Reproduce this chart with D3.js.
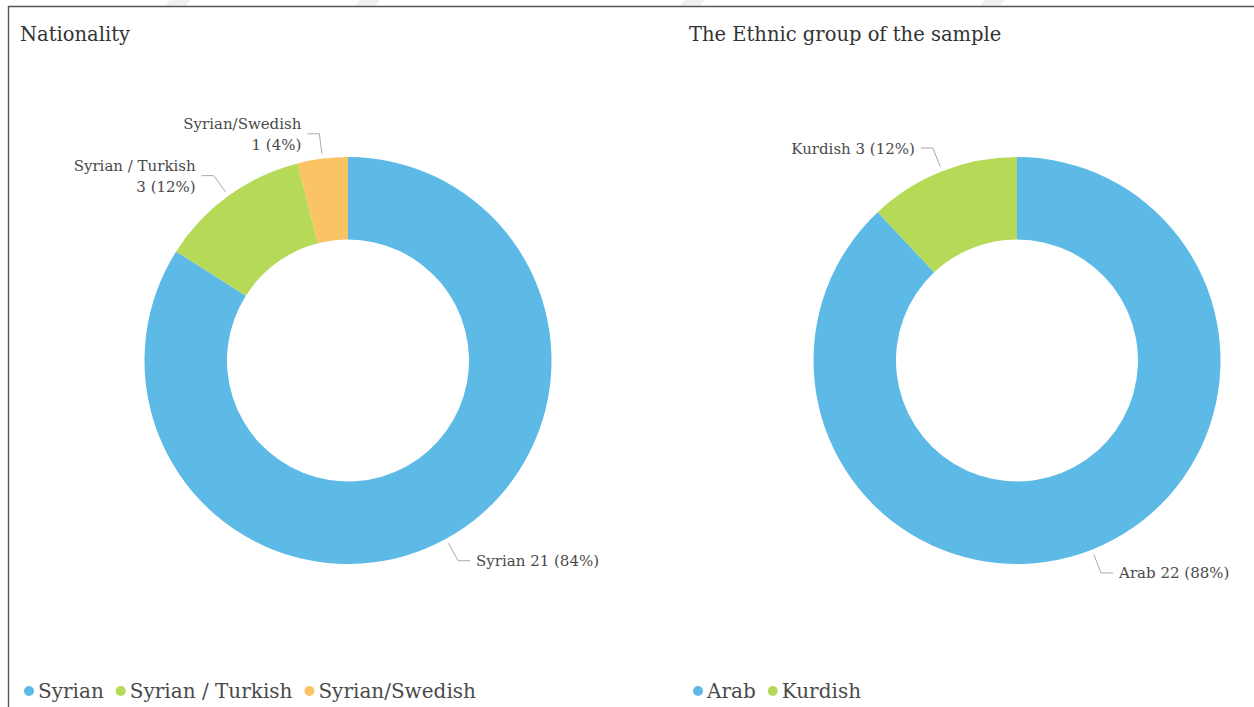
<!DOCTYPE html>
<html>
<head>
<meta charset="utf-8">
<script src="https://cdn.jsdelivr.net/npm/d3@7"></script>
<style>
    body { margin: 0; background: #fff; }
    svg { display: block; }
</style>
</head>
<body>
<div id="chart"></div>
<script>
// data
const nationalityNames = ["Syrian", "Syrian / Turkish", "Syrian/Swedish"];
const nationalityCounts = [21, 3, 1];
const ethnicNames = ["Arab", "Kurdish"];
const ethnicCounts = [22, 3];

const colors = ["#5db9e5", "#b6d957", "#fac364"];
// labels written on two lines
const twoLine = ["Syrian / Turkish", "Syrian/Swedish"];

const FONT = "'DejaVu Serif', serif";
const W = 1254, H = 707;

let svg = d3.select("#chart")
    .append("svg")
    .attr("width", W)
    .attr("height", H)
    .style("font-family", FONT);

// faint stripes above the frame
let stripes = svg.append("g").attr("fill", "#f0f0f0");
for (const sx of [170, 360, 685, 985]) {
    stripes.append("path")
        .attr("d", `M${sx},0 L${sx + 20},0 L${sx + 15},6 L${sx - 5},6 Z`);
}

// frame lines
svg.append("line")
    .attr("x1", 8).attr("y1", 6.5).attr("x2", W).attr("y2", 6.5)
    .attr("stroke", "#555").attr("stroke-width", 1.6);
svg.append("line")
    .attr("x1", 8.5).attr("y1", 6).attr("x2", 8.5).attr("y2", H)
    .attr("stroke", "#555").attr("stroke-width", 1.4);

draw_donut({
    title: "Nationality", titleX: 20,
    names: nationalityNames, counts: nationalityCounts,
    cx: 348, cy: 360.5, legendX: 29
});

draw_donut({
    title: "The Ethnic group of the sample", titleX: 689,
    names: ethnicNames, counts: ethnicCounts,
    cx: 1017, cy: 360.5, legendX: 698
});

function draw_donut(o) {
    const outerR = 203.5, innerR = 121;
    const total = d3.sum(o.counts);
    const data = o.names.map((n, i) => ({ name: n, value: o.counts[i], color: colors[i] }));

    let g = svg.append("g");

    g.append("text")
        .attr("x", o.titleX)
        .attr("y", 41)
        .attr("fill", "#333")
        .attr("font-size", "19.5px")
        .text(o.title);

    const pie = d3.pie().sort(null).value(d => d.value);
    const arc = d3.arc().innerRadius(innerR).outerRadius(outerR);
    const arcs = pie(data);

    let plot = g.append("g")
        .attr("transform", `translate(${o.cx},${o.cy})`);

    plot.selectAll("path")
        .data(arcs)
        .enter()
        .append("path")
        .attr("d", arc)
        .attr("fill", d => d.data.color);

    // labels with leader lines
    for (const a of arcs) {
        const mid = (a.startAngle + a.endAngle) / 2;
        const s = Math.sin(mid), c = -Math.cos(mid);
        const p1 = [s * (outerR + 5), c * (outerR + 5)];
        const p2 = [s * (outerR + 25), c * (outerR + 25)];
        const dir = s >= 0 ? 1 : -1;
        const p3 = [p2[0] + dir * 12, p2[1]];

        plot.append("polyline")
            .attr("points", [p1, p2, p3].map(p => p.join(",")).join(" "))
            .attr("fill", "none")
            .attr("stroke", "#aaa")
            .attr("stroke-width", 1);

        const pct = Math.round(a.data.value / total * 100);
        const valueText = `${a.data.value} (${pct}%)`;
        let t = plot.append("text")
            .attr("x", p3[0] + dir * 6)
            .attr("y", p3[1])
            .attr("fill", "#4a4a4a")
            .attr("font-size", "15px")
            .attr("text-anchor", dir > 0 ? "start" : "end");

        if (twoLine.includes(a.data.name)) {
            t.append("tspan").attr("x", p3[0] + dir * 6).attr("dy", -4.5).text(a.data.name);
            t.append("tspan").attr("x", p3[0] + dir * 6).attr("dy", 20.5).text(valueText);
        } else {
            t.attr("dy", 5.5).text(a.data.name + " " + valueText);
        }
    }

    // legend
    let legend = g.append("g").attr("class", "legend");
    let lx = o.legendX;
    for (const d of data) {
        legend.append("circle")
            .attr("cx", lx)
            .attr("cy", 691)
            .attr("r", 5)
            .attr("fill", d.color);
        let lt = legend.append("text")
            .attr("x", lx + 9)
            .attr("y", 698)
            .attr("fill", "#4a4a4a")
            .attr("font-size", "20px")
            .text(d.name);
        lx = lx + 9 + lt.node().getComputedTextLength() + 17;
    }
}
</script>
</body>
</html>
